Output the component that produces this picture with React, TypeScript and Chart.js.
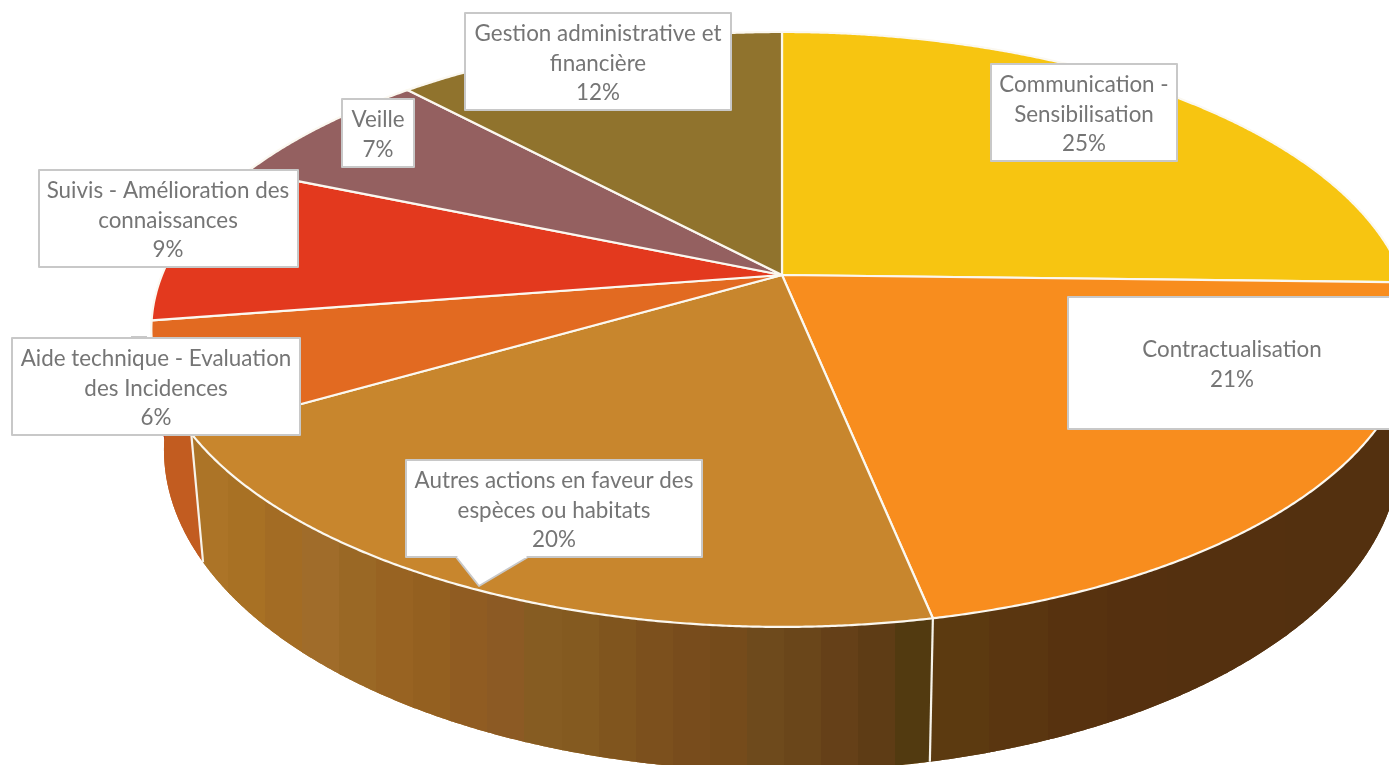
import React, { useEffect, useRef } from "react";
import { Chart, registerables } from "chart.js";

Chart.register(...registerables);

// ---- data ----
const categories = [
  "Communication - Sensibilisation",
  "Contractualisation",
  "Autres actions en faveur des espèces ou habitats",
  "Aide technique - Evaluation des Incidences",
  "Suivis - Amélioration des connaissances",
  "Veille",
  "Gestion administrative et financière",
];
const shares = [25.4, 21.4, 19.85, 5.9, 8.75, 6.7, 12];
const topColors = ["#f7c511", "#f88d1e", "#c8862d", "#e26a21", "#e3391e", "#946060", "#90732d"];
const wallBands = [
  ["#54300f"],
  ["#5c3a10", "#5a3610", "#57320f", "#55300f", "#54300f", "#54300f", "#53300f", "#53300f"],
  ["#ac7427", "#a87124", "#a36c24", "#a06c2a", "#9a6825", "#986322", "#946020", "#905c22", "#8c5a24", "#865c22", "#845a20", "#80551e", "#7c501d", "#784c1c", "#754b1b", "#6e4a1c", "#6a461a", "#654018", "#5e3c15", "#523a10"],
  ["#c25c20"],
  ["#c03820"],
  ["#805050"],
  ["#7a6028"],
];
const labelLines = [
  ["Communication -", "Sensibilisation"],
  ["Contractualisation"],
  ["Autres actions en faveur des", "espèces ou habitats"],
  ["Aide technique - Evaluation", "des Incidences"],
  ["Suivis - Amélioration des", "connaissances"],
  ["Veille"],
  ["Gestion administrative et", "financière"],
];

// ---- layout ----
const W = 1389;
const H = 765;
const APEX = { x: 782, y: 275 };
const RX = 620;
const RY = 287.5;
const PERSP = 0.183;
const BOTTOM_SCALE_X = 0.98;
const BOTTOM_SCALE_Y = 1.08;
const BOTTOM_SHIFT = 116;
const LINE_H = 29.5;
const FONT = '22.4px Lato, "Open Sans", sans-serif';
// x, y, w, h, text centre x
const boxes = [
  [991, 64, 186, 97, 1084],
  [1068, 297, 340, 132, 1232],
  [406, 460, 296, 97, 554],
  [12, 338, 288, 97, 156],
  [39, 170, 259, 97, 168],
  [342, 99, 72, 68, 378],
  [465, 13, 266, 97, 598],
];
const AUTRES_TAIL = [[456, 557], [479, 586], [528, 557]];
const AIDE_STUB = [131, 336, 16, 2];

function rim(angle: number) {
  const u = Math.cos(angle);
  const v = Math.sin(angle);
  const w = 1 - PERSP * v;
  return { x: (RX * u) / w, y: (RY * v) / w };
}
const topPt = (a: number) => {
  const p = rim(a);
  return { x: APEX.x + p.x, y: APEX.y + p.y };
};
const botPt = (a: number) => {
  const p = rim(a);
  return { x: APEX.x + p.x * BOTTOM_SCALE_X, y: APEX.y + p.y * BOTTOM_SCALE_Y + BOTTOM_SHIFT };
};

const STEP = Math.PI / 720;

function wallPath(ctx: CanvasRenderingContext2D, a0: number, a1: number) {
  ctx.beginPath();
  let first = true;
  for (let a = a0; ; a += STEP) {
    const p = topPt(Math.min(a, a1));
    if (first) ctx.moveTo(p.x, p.y);
    else ctx.lineTo(p.x, p.y);
    first = false;
    if (a >= a1) break;
  }
  for (let a = a1; ; a -= STEP) {
    const p = botPt(Math.max(a, a0));
    ctx.lineTo(p.x, p.y);
    if (a <= a0) break;
  }
  ctx.closePath();
}

const pie3d = {
  id: "pie3d",
  beforeDatasetsDraw(chart: any) {
    const ctx: CanvasRenderingContext2D = chart.ctx;
    const arcs = chart.getDatasetMeta(0).data as any[];
    const total = shares.reduce((s, v) => s + v, 0);
    ctx.save();
    ctx.lineJoin = "round";

    // side wall: each slice's wall is shaded in vertical colour bands
    arcs.forEach((arc, i) => {
      const a0 = Math.max(arc.startAngle, 0);
      const a1 = Math.min(arc.endAngle, Math.PI);
      if (a1 <= a0) return;
      const bands = wallBands[i];
      const xs = [topPt(a0).x, topPt(a1).x, botPt(a0).x, botPt(a1).x];
      const xMin = Math.min(...xs);
      const xMax = Math.max(...xs);
      const dx = (xMax - xMin) / bands.length;
      // a base fill keeps the slice edge free of background seams
      wallPath(ctx, a0, a1);
      ctx.fillStyle = bands[0];
      ctx.fill();
      ctx.save();
      wallPath(ctx, a0, a1);
      ctx.clip();
      bands.forEach((col, k) => {
        ctx.fillStyle = col;
        ctx.fillRect(Math.floor(xMin + k * dx), 0, Math.ceil(dx) + 1, H);
      });
      ctx.restore();
    });
    // wall separators
    ctx.strokeStyle = "#f7f3ea";
    ctx.lineWidth = 2.2;
    arcs.forEach((arc) => {
      const a = arc.endAngle;
      if (a > 0 && a < (160 * Math.PI) / 180) {
        const t = topPt(a);
        const p = botPt(a);
        ctx.beginPath();
        ctx.moveTo(t.x, t.y);
        ctx.lineTo(p.x, p.y);
        ctx.stroke();
      }
    });

    // top face
    arcs.forEach((arc, i) => {
      ctx.beginPath();
      ctx.moveTo(APEX.x, APEX.y);
      for (let a = arc.startAngle; a < arc.endAngle; a += STEP) {
        const p = topPt(a);
        ctx.lineTo(p.x, p.y);
      }
      const e = topPt(arc.endAngle);
      ctx.lineTo(e.x, e.y);
      ctx.closePath();
      ctx.fillStyle = topColors[i];
      ctx.fill();
      ctx.strokeStyle = "#fbf8f0";
      ctx.lineWidth = 2.2;
      ctx.stroke();
    });

    // data labels
    ctx.font = FONT;
    ctx.textAlign = "center";
    ctx.textBaseline = "alphabetic";
    ctx.lineWidth = 2;
    ctx.fillStyle = "#c8c8c8";
    ctx.fillRect(AIDE_STUB[0], AIDE_STUB[1], AIDE_STUB[2], AIDE_STUB[3]);
    boxes.forEach(([x, y, w, h, cx], i) => {
      ctx.beginPath();
      ctx.rect(x, y, w, h);
      ctx.fillStyle = "#ffffff";
      ctx.strokeStyle = "#c8c8c8";
      ctx.fill();
      ctx.stroke();
      if (i === 2) {
        ctx.beginPath();
        AUTRES_TAIL.forEach(([px, py], k) => (k ? ctx.lineTo(px, py) : ctx.moveTo(px, py)));
        ctx.fillStyle = "#ffffff";
        ctx.fill();
        ctx.stroke();
        ctx.beginPath();
        ctx.moveTo(AUTRES_TAIL[0][0] + 1.5, AUTRES_TAIL[0][1]);
        ctx.lineTo(AUTRES_TAIL[2][0] - 1.5, AUTRES_TAIL[2][1]);
        ctx.strokeStyle = "#ffffff";
        ctx.stroke();
      }
      const lines = [...labelLines[i], `${Math.round((shares[i] / total) * 100)}%`];
      const top = y + h / 2 - (lines.length * LINE_H) / 2 + 23.8;
      ctx.fillStyle = "#757575";
      lines.forEach((l, k) => ctx.fillText(l, cx, top + k * LINE_H));
    });
    ctx.restore();
    return false;
  },
};

export default function App() {
  const ref = useRef<HTMLCanvasElement>(null);
  useEffect(() => {
    document.body.style.margin = "0";
    const chart = new Chart(ref.current!, {
      type: "pie",
      data: {
        labels: categories,
        datasets: [{ data: shares, backgroundColor: topColors, borderColor: "#ffffff", borderWidth: 2 }],
      },
      options: {
        responsive: false,
        animation: false,
        layout: { padding: 0 },
        plugins: { legend: { display: false }, tooltip: { enabled: false } },
      },
      plugins: [pie3d],
    } as any);
    return () => chart.destroy();
  }, []);
  return <canvas ref={ref} width={W} height={H} style={{ display: "block" }} />;
}
